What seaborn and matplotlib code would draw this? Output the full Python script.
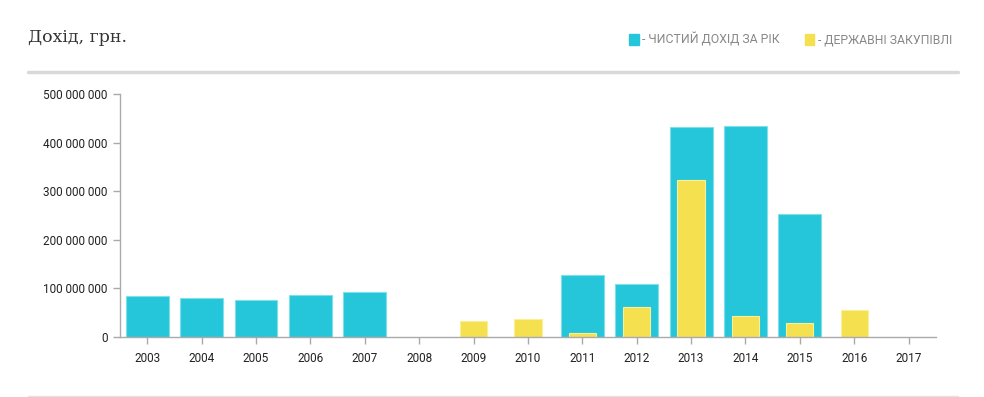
import numpy as np
import pandas as pd
import matplotlib.pyplot as plt
import seaborn as sns
from matplotlib.patches import Patch
from matplotlib.lines import Line2D
from matplotlib.ticker import FuncFormatter

years = ['2003', '2004', '2005', '2006', '2007', '2008', '2009', '2010',
         '2011', '2012', '2013', '2014', '2015', '2016', '2017']
# net income per year (grn), NaN where there is no bar
net_income = [84e6, 80e6, 76e6, 86e6, 93e6, np.nan, np.nan, np.nan,
              128e6, 109e6, 432e6, 434e6, 253e6, np.nan, np.nan]
# state procurement (grn)
procurement = [np.nan, np.nan, np.nan, np.nan, np.nan, np.nan, 33e6, 37e6,
               8e6, 62e6, 323e6, 43e6, 29e6, 55e6, np.nan]

cyan = '#26c6da'
yellow = '#f5e04f'

sns.set_style('white')
plt.rcParams['font.family'] = ['Roboto', 'DejaVu Sans']

df = pd.DataFrame({'year': years, 'net': net_income, 'proc': procurement})

fig = plt.figure(figsize=(9.84, 3.97), dpi=100)
ax = fig.add_axes([0.122, 0.151, 0.829, 0.612])

sns.barplot(data=df, x='year', y='net', order=years, color=cyan, width=0.79,
            saturation=1, edgecolor='#7fe0ea', linewidth=0.8, ax=ax)
sns.barplot(data=df, x='year', y='proc', order=years, color=yellow, width=0.5,
            saturation=1, edgecolor='#fbef9a', linewidth=0.8, ax=ax)

ax.set_xlim(-0.5, len(years) - 0.5)
ax.set_ylim(0, 500e6)
ax.set_yticks(np.arange(0, 500e6 + 1, 100e6))
ax.yaxis.set_major_formatter(FuncFormatter(lambda v, p: f'{int(v):,}'.replace(',', ' ')))
ax.set_xlabel('')
ax.set_ylabel('')

for s in ['top', 'right']:
    ax.spines[s].set_visible(False)
for s in ['left', 'bottom']:
    ax.spines[s].set_color('#aaaaaa')
    ax.spines[s].set_linewidth(1)
ax.tick_params(axis='both', which='major', length=5, width=1, color='#aaaaaa',
               labelsize=8.5, labelcolor='#222222', pad=6)
ax.tick_params(axis='y', left=True, pad=4)
ax.tick_params(axis='x', bottom=True)

# title and decoration lines
fig.text(28 / 984, 1 - 38 / 397, 'Дохід, грн.', fontsize=12.5, color='#333333',
         family=['DejaVu Serif'], va='center', ha='left')
fig.add_artist(Line2D([28 / 984, 958 / 984], [1 - 72 / 397] * 2, color='#d9d9d9',
                      linewidth=2.5, transform=fig.transFigure))
fig.add_artist(Line2D([28 / 984, 958 / 984], [1 - 395.5 / 397] * 2, color='#e3e3e3',
                      linewidth=1, transform=fig.transFigure))

handles = [Patch(facecolor=cyan, edgecolor=cyan, label='- ЧИСТИЙ ДОХІД ЗА РІК'),
           Patch(facecolor=yellow, edgecolor=yellow, label='- ДЕРЖАВНІ ЗАКУПІВЛІ')]
leg = fig.legend(handles=handles, loc='center right', bbox_to_anchor=(0.979, 1 - 40 / 397),
                 ncol=2, frameon=False, fontsize=8.8, handlelength=0.8, handleheight=1.0,
                 handletextpad=0.3, columnspacing=2.0)
for t in leg.get_texts():
    t.set_color('#888888')

fig.savefig('out.png', dpi=100)
